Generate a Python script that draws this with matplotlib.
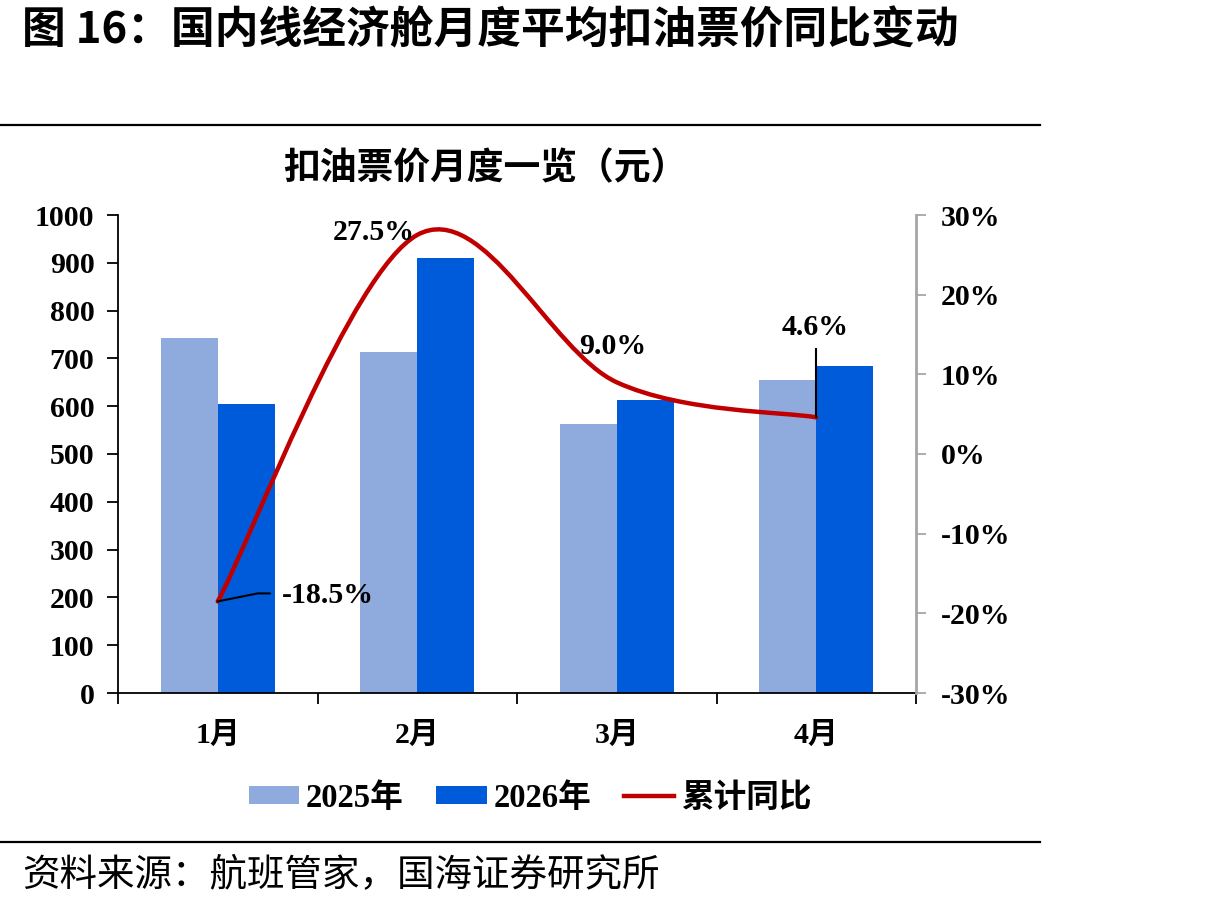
import numpy as np
import matplotlib.pyplot as plt
from matplotlib.path import Path
from matplotlib.patches import PathPatch, Patch
from matplotlib.lines import Line2D

plt.rcParams['font.family'] = ['Liberation Serif', 'Noto Sans CJK SC', 'DejaVu Sans']

# 数据
months = ['1月', '2月', '3月', '4月']
price_2025 = [742, 713, 563, 655]
price_2026 = [604, 910, 613, 684]
yoy = [-18.5, 27.5, 9.0, 4.6]
yoy_labels = ['-18.5%', '27.5%', '9.0%', '4.6%']
left_ticks = list(range(0, 1001, 100))
right_ticks = list(range(-30, 31, 10))

c2025 = '#8FAADC'
c2026 = '#005BDB'
cline = '#C00000'

fig = plt.figure(figsize=(12.14, 9.09), dpi=100)
ax = fig.add_axes([118 / 1214, 1 - 693 / 909, (916 - 118) / 1214, (693 - 215) / 909])
ax2 = ax.twinx()

x = np.arange(len(months))
w = 0.285
ax.bar(x - w / 2, price_2025, w, color=c2025, zorder=2)
ax.bar(x + w / 2, price_2026, w, color=c2026, zorder=2)

ax.set_xlim(-0.5, len(months) - 0.5)
ax.set_ylim(0, 1000)
ax.set_yticks(left_ticks)
ax.set_yticklabels([str(v) for v in left_ticks], fontsize=21.5, fontweight='bold')
ax.set_xticks(x)
ax.set_xticklabels(months, fontsize=21.5, fontweight='bold')
ax.set_xticks(np.arange(-0.5, len(months), 1), minor=True)
ax.tick_params(axis='x', which='major', length=0, pad=21)
ax.tick_params(axis='x', which='minor', length=8, width=1.3, direction='out')
ax.tick_params(axis='y', length=8, width=1.3, direction='out', pad=9)
for s in ['top', 'right']:
    ax.spines[s].set_visible(False)
ax.spines['left'].set_linewidth(1.3)
ax.spines['bottom'].set_linewidth(1.3)

# 右轴
ax2.set_ylim(-30, 30)
ax2.set_yticks(right_ticks)
ax2.set_yticklabels([f'{v}%' for v in right_ticks], fontsize=21.5, fontweight='bold')
ax2.tick_params(axis='y', length=7, width=1.3, color='#A6A6A6', direction='out', pad=11)
for s in ['top', 'left', 'bottom']:
    ax2.spines[s].set_visible(False)
ax2.spines['right'].set_color('#A6A6A6')
ax2.spines['right'].set_linewidth(2)

# 平滑曲线 (Catmull-Rom -> Bezier)
pts = np.column_stack([x, yoy]).astype(float)
verts = [tuple(pts[0])]
codes = [Path.MOVETO]
n = len(pts)
for i in range(n - 1):
    p0 = pts[max(i - 1, 0)]
    p1 = pts[i]
    p2 = pts[i + 1]
    p3 = pts[min(i + 2, n - 1)]
    c1 = p1 + (p2 - p0) / 6
    c2 = p2 - (p3 - p1) / 6
    verts += [tuple(c1), tuple(c2), tuple(p2)]
    codes += [Path.CURVE4] * 3
ax2.add_patch(PathPatch(Path(verts, codes), facecolor='none', edgecolor=cline,
                        lw=3.2, capstyle='round', zorder=4))

# 数据标签
lab = dict(fontsize=21.5, fontweight='bold', zorder=5)
ax2.annotate(yoy_labels[0], xy=(x[0], yoy[0]), xytext=(46, 4), textcoords='offset points',
             ha='left', va='center', **lab)
ax2.plot([x[0], x[0] + 0.2, x[0] + 0.26], [yoy[0], yoy[0] + 1.0, yoy[0] + 1.0],
         color='black', lw=1.5, zorder=5)
ax2.annotate(yoy_labels[1], xy=(x[1], yoy[1]), xytext=(-31, 2), textcoords='offset points',
             ha='center', va='center', **lab)
ax2.annotate(yoy_labels[2], xy=(x[2], yoy[2]), xytext=(-3, 26), textcoords='offset points',
             ha='center', va='center', **lab)
ax2.annotate(yoy_labels[3], xy=(x[3], yoy[3]), xytext=(-1, 65), textcoords='offset points',
             ha='center', va='center', **lab)
ax2.plot([x[3], x[3]], [yoy[3], yoy[3] + 8.6], color='black', lw=1.5, zorder=5)

# 标题与注释
fig.text(22 / 1214, 1 - 30 / 909, '图 16：国内线经济舱月度平均扣油票价同比变动',
         fontsize=31.5, fontweight='bold', family=['Noto Sans CJK SC', 'DejaVu Sans'],
         ha='left', va='center')
fig.text(485 / 1214, 1 - 170 / 909, '扣油票价月度一览（元）', fontsize=26.5, fontweight='bold',
         ha='center', va='center')
fig.text(22 / 1214, 1 - 876 / 909, '资料来源：航班管家，国海证券研究所', fontsize=27,
         family=['Noto Sans CJK SC', 'DejaVu Sans'], ha='left', va='center')
fig.add_artist(Line2D([0, 1040 / 1214], [1 - 125 / 909] * 2, color='black', lw=1.6))
fig.add_artist(Line2D([0, 1040 / 1214], [1 - 842 / 909] * 2, color='black', lw=1.6))

handles = [Patch(facecolor=c2025), Patch(facecolor=c2026), Line2D([], [], color=cline, lw=3.2)]
fig.legend(handles, ['2025年', '2026年', '累计同比'], loc='center', ncol=3,
           bbox_to_anchor=(530 / 1214, 1 - 798 / 909), frameon=False,
           prop={'size': 23.5, 'weight': 'bold'}, handlelength=1.55, handleheight=0.45,
           handletextpad=0.2, columnspacing=1.0)

fig.savefig('out.png', dpi=100)
